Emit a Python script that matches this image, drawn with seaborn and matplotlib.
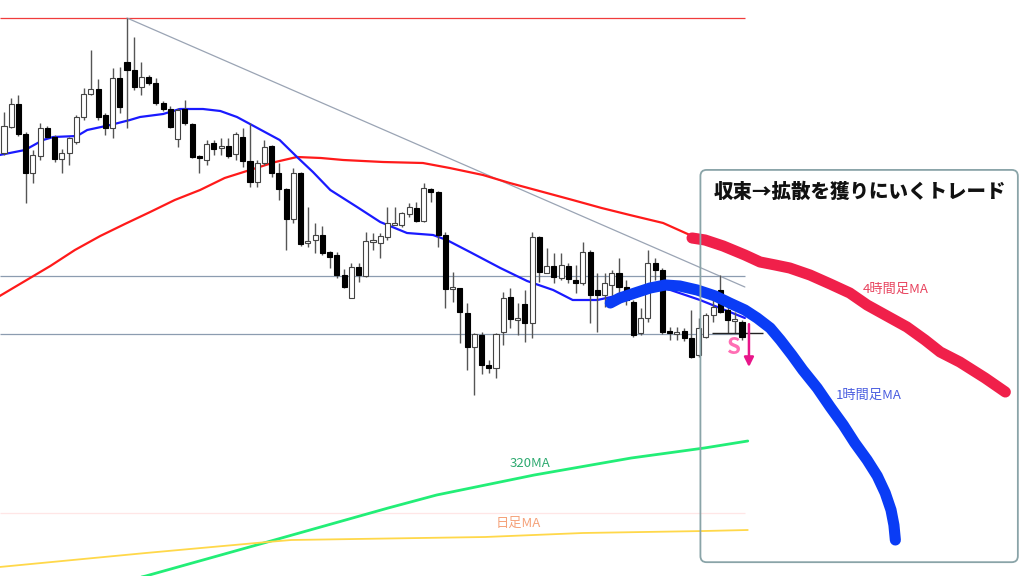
import numpy as np
import pandas as pd
import seaborn as sns
import matplotlib.pyplot as plt
from matplotlib.patches import FancyBboxPatch

# candle data (price points), one bar per index
opens = [423, 449, 472, 442, 403, 420, 448, 439, 417, 423, 434, 459, 482, 487, 461, 448, 498, 514, 506, 489,
         499, 493, 473, 467, 437, 467, 452, 420, 416, 433, 428, 430, 422, 439, 415, 394, 413, 430, 403, 387,
         357, 403, 333, 336, 341, 324, 321, 301, 278, 309, 300, 334, 333, 339, 351, 351, 362, 368, 355, 387,
         384, 341, 287, 288, 263, 229, 241, 211, 208, 244, 279, 256, 272, 253, 339, 303, 310, 298, 310, 296,
         293, 324, 286, 281, 291, 303, 289, 274, 243, 258, 313, 306, 245, 242, 245, 238, 221, 239, 261, 286,
         266, 255, 254]
highs = [464, 478, 481, 444, 426, 453, 450, 441, 427, 439, 461, 488, 526, 497, 463, 508, 509, 558, 539, 514,
         501, 498, 475, 470, 468, 476, 453, 421, 436, 436, 438, 438, 444, 448, 453, 416, 436, 431, 413, 388,
         408, 404, 369, 353, 350, 325, 324, 307, 313, 313, 344, 343, 343, 369, 369, 364, 373, 374, 393, 388,
         385, 344, 304, 288, 273, 243, 244, 216, 243, 284, 288, 273, 286, 344, 340, 328, 323, 323, 313, 311,
         334, 326, 303, 303, 306, 318, 296, 276, 268, 326, 318, 308, 249, 249, 248, 266, 258, 263, 279, 301,
         271, 264, 256]
lows = [421, 448, 440, 373, 393, 416, 438, 414, 403, 411, 432, 456, 481, 456, 441, 438, 463, 448, 486, 481,
        491, 471, 465, 448, 429, 451, 418, 403, 411, 421, 421, 418, 416, 409, 389, 389, 411, 399, 376, 326,
        353, 330, 329, 323, 321, 308, 298, 288, 278, 294, 299, 326, 318, 336, 351, 349, 359, 354, 354, 374,
        329, 268, 274, 233, 206, 181, 202, 203, 198, 231, 248, 241, 234, 238, 294, 303, 293, 296, 293, 283,
        291, 253, 244, 269, 274, 279, 271, 239, 241, 254, 296, 242, 236, 236, 235, 218, 219, 238, 254, 263,
        243, 243, 236]
closes = [450, 472, 442, 403, 421, 448, 439, 417, 423, 438, 459, 482, 487, 459, 448, 498, 469, 506, 489, 499,
          493, 473, 467, 449, 466, 453, 419, 418, 432, 427, 430, 420, 442, 415, 394, 413, 429, 403, 387, 357,
          403, 332, 335, 341, 323, 319, 301, 289, 309, 301, 335, 336, 340, 353, 353, 363, 369, 355, 388, 384,
          341, 287, 289, 264, 229, 242, 211, 208, 242, 278, 257, 258, 253, 339, 304, 310, 299, 311, 297, 293,
          324, 281, 281, 293, 303, 289, 276, 241, 258, 313, 306, 244, 243, 244, 238, 219, 248, 261, 269, 264,
          256, 257, 239]

# moving averages (bar index, price)
ma1h_x = [-0.6, 2.9, 5.4, 6.8, 10.1, 11.5, 14.7, 17.4, 18.8, 22.0, 24.3, 27.5, 29.9, 32.2, 34.0, 38.1, 40.5,
          42.7, 45.1, 48.8, 52.0, 55.7, 59.3, 61.2, 64.4, 68.6, 72.3, 75.9, 78.6, 82.0, 86.5, 91.3, 96.2, 102.4]
ma1h_y = [421, 426, 436, 439, 440, 446, 451, 456, 459, 462, 467, 467, 465, 459, 452, 436, 419,
          404, 386, 369, 354, 343, 341, 336, 324, 308, 295, 286, 276, 276, 283, 288, 276, 258]
ma4h_x = [-0.6, 2.9, 6.4, 9.8, 13.3, 16.7, 20.2, 23.6, 27.1, 30.5, 34.0, 37.5, 40.5, 43.8, 46.9, 52.4, 57.9,
          61.6, 66.2, 69.9, 74.0, 78.6, 82.6, 86.5, 91.1, 94.8, 96.2]
ma4h_y = [280, 295, 310, 326, 340, 352, 364, 376, 386, 398, 406, 414, 419, 418, 416, 414, 413,
          408, 401, 393, 385, 376, 368, 361, 353, 341, 336]
ma320_x = [16.0, 19.6, 36.4, 53.1, 59.8, 73.3, 86.7, 96.8, 102.8]
ma320_y = [-6, 0, 34, 68, 81, 101, 118, 128, 135]
daily_x = [-0.6, 19.6, 36.4, 39.7, 66.5, 80.0, 96.8, 102.8]
daily_y = [9, 23, 34, 36, 39, 43, 45, 46]

# hand-drawn projections
proj4h_x = [95.1, 96.9, 99.4, 102.4, 104.5, 106.6, 108.6, 111.4, 114.2, 116.9, 119.3, 121.8, 124.8, 127.3,
            129.4, 132.1, 135.6, 138.4]
proj4h_y = [338, 336, 330, 321, 314, 311, 308, 301, 292, 283, 271, 261, 249, 236, 224, 214, 198, 184]
proj1h_x = [83.8, 85.1, 87.2, 89.3, 91.4, 93.4, 95.8, 98.3, 100.3, 102.4, 104.1, 105.9, 107.3, 108.9, 110.4,
            112.4, 114.2, 116.0, 117.6, 119.3, 120.7, 121.8, 122.6, 123.0, 123.2]
proj1h_y = [273, 278, 283, 288, 291, 290, 286, 280, 273, 266, 258, 248, 236, 221, 206, 188, 169, 151, 133,
            116, 100, 83, 66, 51, 36]

# levels
high_level = 558
upper_level = 300
lower_level = 242
pink_level = 63
trend_x = [17.0, 102.4]
trend_y = [558, 289]

candles = pd.DataFrame({"open": opens, "high": highs, "low": lows, "close": closes})
candles["bar"] = np.arange(len(candles))
last_bar = candles["bar"].iloc[-1] + 0.4

sns.set_theme(style="white")
plt.rcParams["font.family"] = ["Noto Sans CJK JP", "DejaVu Sans"]

fig = plt.figure(figsize=(10.24, 5.76), dpi=100)
ax = fig.add_axes([0, 0, 1, 1])
ax.set_xlim(-0.553, 140.98)
ax.set_ylim(0, 576)
ax.axis("off")

# horizontal lines + trendline
ax.hlines(high_level, -0.6, last_bar, color="#f03c3c", lw=0.9, zorder=1)
ax.hlines([upper_level, lower_level], -0.6, last_bar, color="#8c9cb0", lw=0.9, zorder=1)
ax.hlines(pink_level, -0.6, last_bar, color="#ffe6e6", lw=0.9, zorder=1)
ax.hlines(lower_level + 1, 97.9, 104.9, color="#222222", lw=1.0, zorder=4)
sns.lineplot(x=trend_x, y=trend_y, ax=ax, color="#9aa4b4", lw=0.9, zorder=1)

# moving averages
sns.lineplot(x=ma320_x, y=ma320_y, ax=ax, color="#22ee77", lw=2.0, zorder=2)
sns.lineplot(x=daily_x, y=daily_y, ax=ax, color="#ffd84a", lw=1.3, zorder=2)
sns.lineplot(x=ma4h_x, y=ma4h_y, ax=ax, color="#ff1a1a", lw=1.6, zorder=2)
sns.lineplot(x=ma1h_x, y=ma1h_y, ax=ax, color="#1a1aff", lw=1.6, zorder=2)

# candles
up = candles["close"] >= candles["open"]
ax.vlines(candles["bar"], candles["low"], candles["high"], color="#555555", lw=1.0, zorder=3)
body_low = candles[["open", "close"]].min(axis=1)
body_h = (candles["close"] - candles["open"]).abs().clip(lower=1.2)
ax.bar(candles["bar"][up], body_h[up], bottom=body_low[up], width=0.7,
       color="white", edgecolor="#444444", linewidth=0.8, zorder=4)
ax.bar(candles["bar"][~up], body_h[~up], bottom=body_low[~up], width=0.7,
       color="black", edgecolor="black", linewidth=0.8, zorder=4)

# hand drawn projections
sns.lineplot(x=proj4h_x, y=proj4h_y, ax=ax, color="#f0204a", lw=8, zorder=5,
             solid_capstyle="round", solid_joinstyle="round")
sns.lineplot(x=proj1h_x, y=proj1h_y, ax=ax, color="#0a3cf5", lw=8, zorder=5,
             solid_capstyle="round", solid_joinstyle="round")

# annotation box
box = FancyBboxPatch((0.684, 0.024), 0.310, 0.681, boxstyle="round,pad=0,rounding_size=0.006",
                     transform=ax.transAxes, fill=False, edgecolor="#8aa4a8", lw=1.3,
                     mutation_aspect=1024 / 576, zorder=6)
ax.add_patch(box)
ax.text(0.840, 0.667, "収束→拡散を獲りにいくトレード", transform=ax.transAxes, ha="center", va="center",
        fontsize=14, fontweight="heavy", color="#111111", zorder=7)

ax.text(0.875, 0.498, "4時間足MA", transform=ax.transAxes, ha="center", va="center",
        fontsize=9.5, color="#e8445f", zorder=7)
ax.text(0.848, 0.314, "1時間足MA", transform=ax.transAxes, ha="center", va="center",
        fontsize=9.5, color="#4a5de0", zorder=7)
ax.text(0.518, 0.196, "320MA", transform=ax.transAxes, ha="center", va="center",
        fontsize=9.5, color="#2eaa70", zorder=7)
ax.text(0.506, 0.092, "日足MA", transform=ax.transAxes, ha="center", va="center",
        fontsize=9.5, color="#f5a27a", zorder=7)

# sell signal
ax.text(0.716, 0.396, "S", transform=ax.transAxes, ha="center", va="center",
        fontsize=16, fontweight="bold", color="#ff6eb4", zorder=7)
ax.annotate("", xy=(0.7314, 0.358), xytext=(0.7314, 0.442), xycoords="axes fraction",
            arrowprops=dict(arrowstyle="-|>", color="#e8168a", lw=1.8, mutation_scale=14), zorder=7)

fig.savefig("out.png", dpi=100, facecolor="white")
